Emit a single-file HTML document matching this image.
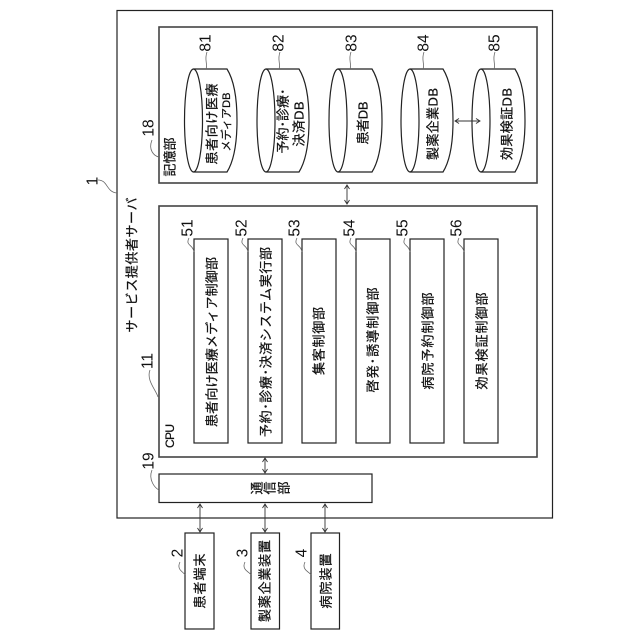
<!DOCTYPE html>
<html><head><meta charset="utf-8">
<style>
html,body{margin:0;padding:0;background:#fff}
svg{display:block}
text{font-family:"Liberation Sans","Noto Sans CJK JP",sans-serif;fill:#111;dominant-baseline:central;text-anchor:middle}
.j{font-size:13px;stroke:#111;stroke-width:.25}
.n{font-size:15.500px}
.b{fill:none;stroke:#222;stroke-width:1.2}
.g{fill:none;stroke:#444;stroke-width:1.6}
.l{fill:none;stroke:#666;stroke-width:.8}
.a{fill:none;stroke:#333;stroke-width:.9}
</style></head><body>
<svg width="640" height="640" viewBox="0 0 640 640" xmlns="http://www.w3.org/2000/svg">
<rect width="640" height="640" fill="#fff"/>
<rect class="b" x="117" y="10.500" width="435.500" height="507.500"/>
<rect class="g" x="159" y="27" width="378" height="156"/>
<rect class="g" x="159" y="206" width="378" height="251"/>
<rect class="b" x="159" y="474" width="213" height="28.500"/>
<rect class="b" x="194" y="239" width="34" height="204"/>
<rect class="b" x="248" y="239" width="34" height="204"/>
<rect class="b" x="302" y="239" width="34" height="204"/>
<rect class="b" x="356" y="239" width="34" height="204"/>
<rect class="b" x="410" y="239" width="34" height="204"/>
<rect class="b" x="464" y="239" width="34" height="204"/>
<rect class="b" x="185" y="533" width="29" height="96"/>
<rect class="b" x="251" y="533" width="28.500" height="96"/>
<rect class="b" x="311" y="533" width="28.500" height="96"/>

<g class="b">
<path class="b" d="M193.500 69H227Q237 85 237 120.500Q237 156 227 172H193.500"/><ellipse class="b" cx="193.500" cy="120.500" rx="9" ry="51.500"/>
<path class="b" d="M266 69H299Q309 85 309 120.500Q309 156 299 172H266"/><ellipse class="b" cx="266" cy="120.500" rx="9" ry="51.500"/>
<path class="b" d="M338 69H372Q382 85 382 120.500Q382 156 372 172H338"/><ellipse class="b" cx="338" cy="120.500" rx="9" ry="51.500"/>
<path class="b" d="M410 69H443Q453 85 453 120.500Q453 156 443 172H410"/><ellipse class="b" cx="410" cy="120.500" rx="9" ry="51.500"/>
<path class="b" d="M481 69H515Q525 85 525 120.500Q525 156 515 172H481"/><ellipse class="b" cx="481" cy="120.500" rx="9" ry="51.500"/>
</g>

<g class="a">
<path d="M347 185V204M344.500 189L347 185L349.500 189M344.500 200L347 204L349.500 200"/>
<path d="M265 458V473M262.500 462L265 458L267.500 462M262.500 469L265 473L267.500 469"/>
<path d="M200 504V532M197.500 508L200 504L202.500 508M197.500 528L200 532L202.500 528"/>
<path d="M265 504V532M262.500 508L265 504L267.500 508M262.500 528L265 532L267.500 528"/>
<path d="M325 504V532M322.500 508L325 504L327.500 508M322.500 528L325 532L327.500 528"/>
<path d="M455 121H480M459 118.500L455 121L459 123.500M476 118.500L480 121L476 123.500"/>
</g>

<g class="l">
<path d="M98 180C108 180 106 192 117 193"/>
<path d="M152 140C148 150 154 156 159 157"/>
<path d="M150 370C146 380 156 390 158 397"/>
<path d="M152 470C148 480 155 488 159 490"/>
<path d="M207 52C204 60 208 64 206 69"/>
<path d="M280 52C277 60 281 64 279 69"/>
<path d="M351 52C348 60 352 64 350 69"/>
<path d="M424 52C421 60 425 64 423 69"/>
<path d="M495 52C492 60 496 64 494 69"/>
<path d="M189 238C185 246 193 244 194 252"/>
<path d="M243 238C239 246 247 244 248 252"/>
<path d="M297 238C293 246 301 244 302 252"/>
<path d="M351 238C347 246 355 244 356 252"/>
<path d="M405 238C401 246 409 244 410 252"/>
<path d="M459 238C455 246 463 244 464 252"/>
<path d="M180 562C176 570 184 572 185 575"/>
<path d="M245 562C241 570 250 572 251 575"/>
<path d="M305 562C301 570 310 572 311 575"/>
</g>

<!-- numbers -->
<text class="n" transform="translate(93,181) rotate(-90)">1</text>
<text class="n" transform="translate(149,128) rotate(-90)">18</text>
<text class="n" transform="translate(148,361) rotate(-90)">11</text>
<text class="n" transform="translate(149,461) rotate(-90)">19</text>
<text class="n" transform="translate(206,43) rotate(-90)">81</text>
<text class="n" transform="translate(279,43) rotate(-90)">82</text>
<text class="n" transform="translate(352,43) rotate(-90)">83</text>
<text class="n" transform="translate(424,43) rotate(-90)">84</text>
<text class="n" transform="translate(495,43) rotate(-90)">85</text>
<text class="n" transform="translate(188,228) rotate(-90)">51</text>
<text class="n" transform="translate(242,228) rotate(-90)">52</text>
<text class="n" transform="translate(295,228) rotate(-90)">53</text>
<text class="n" transform="translate(350,228) rotate(-90)">54</text>
<text class="n" transform="translate(403,228) rotate(-90)">55</text>
<text class="n" transform="translate(457,228) rotate(-90)">56</text>
<text class="n" transform="translate(178,553) rotate(-90)">2</text>
<text class="n" transform="translate(243,553) rotate(-90)">3</text>
<text class="n" transform="translate(302,553) rotate(-90)">4</text>

<!-- labels -->
<text class="j" textLength="135" transform="translate(132,265) rotate(-90)">サービス提供者サーバ</text>
<text class="j" textLength="39" transform="translate(170,157) rotate(-90)">記憶部</text>
<text class="j" textLength="24" style="font-size:12px" transform="translate(170,436) rotate(-90)">CPU</text>
<text class="j" textLength="81" transform="translate(212,124) rotate(-90)">患者向け医療</text>
<text class="j" textLength="59" style="font-size:11px" transform="translate(227,122) rotate(-90)">メディアDB</text>
<text class="j" textLength="65" transform="translate(283,121) rotate(-90)">予約･診療･</text>
<text class="j" textLength="45" transform="translate(299,124) rotate(-90)">決済DB</text>
<text class="j" textLength="43" transform="translate(363,123) rotate(-90)">患者DB</text>
<text class="j" textLength="72" transform="translate(433,124) rotate(-90)">製薬企業DB</text>
<text class="j" textLength="72" transform="translate(507,124) rotate(-90)">効果検証DB</text>
<text class="j" textLength="170" transform="translate(212,342) rotate(-90)">患者向け医療メディア制御部</text>
<text class="j" textLength="190" transform="translate(266,342) rotate(-90)">予約･診療･決済システム実行部</text>
<text class="j" textLength="68" transform="translate(319,341) rotate(-90)">集客制御部</text>
<text class="j" textLength="105" transform="translate(373,340) rotate(-90)">啓発･誘導制御部</text>
<text class="j" textLength="97" transform="translate(428,341) rotate(-90)">病院予約制御部</text>
<text class="j" textLength="97" transform="translate(482,341) rotate(-90)">効果検証制御部</text>
<text class="j" transform="translate(257,488) rotate(-90)">通</text>
<text class="j" transform="translate(270,488) rotate(-90)">信</text>
<text class="j" transform="translate(284,488) rotate(-90)">部</text>
<text class="j" textLength="55" transform="translate(200,581) rotate(-90)">患者端末</text>
<text class="j" textLength="82" transform="translate(265,581) rotate(-90)">製薬企業装置</text>
<text class="j" textLength="55" transform="translate(326,581) rotate(-90)">病院装置</text>
</svg>
</body></html>
